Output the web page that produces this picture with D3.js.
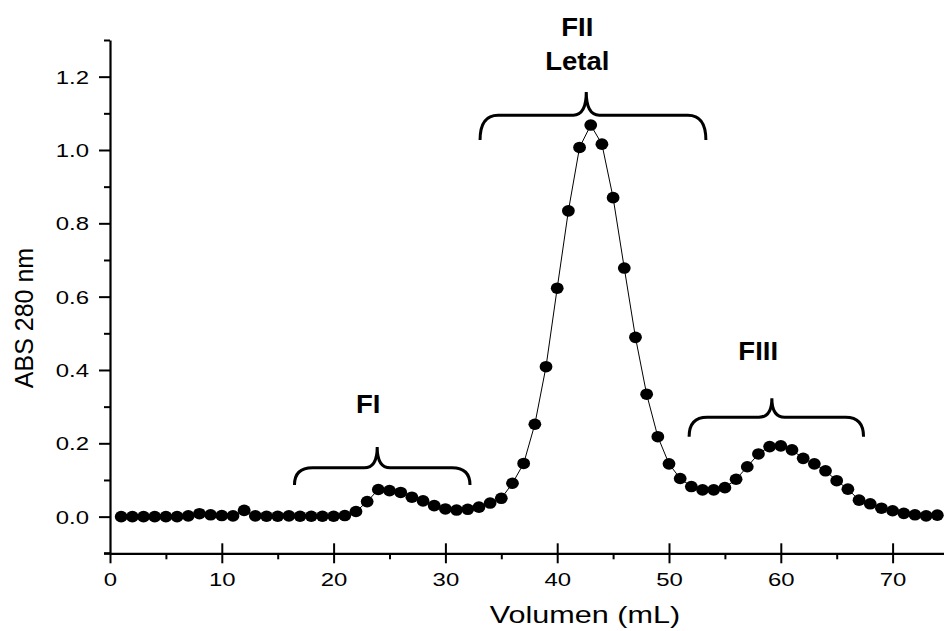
<!DOCTYPE html>
<html>
<head>
<meta charset="utf-8">
<script src="https://cdn.jsdelivr.net/npm/d3@7"></script>
<style>
  body { margin: 0; background: #fff; }
  svg { display: block; }
  text { font-family: "Liberation Sans", Arial, sans-serif; fill: #000; }
</style>
</head>
<body>
<svg id="chart" width="944" height="631"></svg>
<script>
// Elution volume (mL) and absorbance at 280 nm
var volumes = [1, 2, 3, 4, 5, 6, 7, 8, 9, 10, 11, 12, 13, 14, 15, 16, 17, 18, 19, 20,
  21, 22, 23, 24, 25, 26, 27, 28, 29, 30, 31, 32, 33, 34, 35, 36, 37, 38, 39, 40,
  41, 42, 43, 44, 45, 46, 47, 48, 49, 50, 51, 52, 53, 54, 55, 56, 57, 58, 59, 60,
  61, 62, 63, 64, 65, 66, 67, 68, 69, 70, 71, 72, 73, 74];
var absorbance = [0, 0, 0, 0, 0, 0, 0.002, 0.008, 0.005, 0.003, 0.002, 0.017, 0.002, 0.001, 0.001, 0.002, 0.001, 0.001, 0.001, 0.001,
  0.003, 0.014, 0.041, 0.074, 0.071, 0.066, 0.053, 0.043, 0.030, 0.021, 0.018, 0.020, 0.026, 0.037, 0.050, 0.091, 0.145, 0.252, 0.409, 0.623,
  0.834, 1.007, 1.068, 1.016, 0.870, 0.678, 0.489, 0.334, 0.218, 0.144, 0.104, 0.082, 0.073, 0.073, 0.079, 0.102, 0.136, 0.171, 0.191, 0.193,
  0.182, 0.159, 0.144, 0.125, 0.098, 0.075, 0.045, 0.035, 0.023, 0.016, 0.009, 0.005, 0.002, 0.004];

var xMajor = [0, 10, 20, 30, 40, 50, 60, 70];
var xMinor = [5, 15, 25, 35, 45, 55, 65, 75];
var yMajor = [0, 0.2, 0.4, 0.6, 0.8, 1.0, 1.2];
var yMinor = [-0.1, 0.1, 0.3, 0.5, 0.7, 0.9, 1.1, 1.3];

// Fraction braces: label lines, start, end, tip (mL); end, bar, tip heights (ABS)
var fractions = [
  { lines: ["FI"], x0: 16.5, x1: 32.2, xt: 23.9, yEnd: 0.086, yBar: 0.133, yTip: 0.19, labelX: 23.1, labelY: 0.282 },
  { lines: ["FII", "Letal"], x0: 33.1, x1: 53.3, xt: 42.6, yEnd: 1.027, yBar: 1.095, yTip: 1.158, labelX: 41.8, labelY: 1.311 },
  { lines: ["FIII"], x0: 51.8, x1: 67.4, xt: 59.2, yEnd: 0.218, yBar: 0.271, yTip: 0.323, labelX: 57.98, labelY: 0.428 }
];

var svg = d3.select("#chart");
var sx = 1.33; // horizontal stretch of the axis texts

var x = d3.scaleLinear().domain([0, 75]).range([110, 948.5]);
var y = d3.scaleLinear().domain([-0.1, 1.3]).range([553.3, 40]);

// Y axis
var yAxis = svg.append("g").attr("transform", "translate(" + x(0) + ",0)");
yAxis.call(d3.axisLeft(y).tickValues(yMajor).tickSize(11).tickSizeOuter(0)
  .tickFormat(d3.format(".1f")));
yAxis.select(".domain").attr("stroke-width", 2.2);
yAxis.selectAll(".tick line").attr("stroke-width", 2);
yAxis.selectAll(".tick text")
  .attr("font-size", 18)
  .attr("font-family", "Liberation Sans, Arial, sans-serif")
  .attr("x", -21 / sx)
  .attr("dy", "0.36em")
  .attr("transform", "scale(" + sx + ",1)");
svg.append("g").attr("transform", "translate(" + x(0) + ",0)")
  .call(d3.axisLeft(y).tickValues(yMinor).tickSize(6).tickFormat(""))
  .call(function(g) { g.select(".domain").remove(); })
  .selectAll(".tick line").attr("stroke-width", 2);

// X axis
var xAxis = svg.append("g").attr("transform", "translate(0," + y(-0.1) + ")");
xAxis.call(d3.axisBottom(x).tickValues(xMajor).tickSize(10).tickSizeOuter(0));
xAxis.select(".domain").attr("stroke-width", 2.2);
xAxis.selectAll(".tick line").attr("stroke-width", 2)
  .attr("y1", function(d) { return d === 0 ? 0 : -10; });
xAxis.selectAll(".tick text")
  .attr("font-size", 18)
  .attr("font-family", "Liberation Sans, Arial, sans-serif")
  .attr("y", 20)
  .attr("dy", "0.71em")
  .attr("transform", "scale(" + sx + ",1)");
svg.append("g").attr("transform", "translate(0," + y(-0.1) + ")")
  .call(d3.axisBottom(x).tickValues(xMinor).tickSize(6).tickFormat(""))
  .call(function(g) { g.select(".domain").remove(); })
  .selectAll(".tick line").attr("stroke-width", 2);
// left stub of the x axis line
svg.append("line")
  .attr("x1", x(0) - 6).attr("x2", x(0))
  .attr("y1", y(-0.1)).attr("y2", y(-0.1))
  .attr("stroke", "#000").attr("stroke-width", 2.2);

// Axis titles
svg.append("text")
  .attr("transform", "translate(585,623) scale(" + sx + ",1)")
  .attr("text-anchor", "middle")
  .attr("font-size", 23)
  .text("Volumen (mL)");
svg.append("text")
  .attr("transform", "translate(33,318) rotate(-90)")
  .attr("text-anchor", "middle")
  .attr("font-size", 25)
  .text("ABS 280 nm");

// Connecting line and points
var pts = volumes.map(function(v, i) { return [v, absorbance[i]]; });
svg.append("path")
  .datum(pts)
  .attr("fill", "none")
  .attr("stroke", "#000")
  .attr("stroke-width", 1)
  .attr("d", d3.line().x(function(d) { return x(d[0]); }).y(function(d) { return y(d[1]); }));

svg.append("g").selectAll("ellipse")
  .data(pts)
  .enter().append("ellipse")
  .attr("cx", function(d) { return x(d[0]); })
  .attr("cy", function(d) { return y(d[1]); })
  .attr("rx", 6.4)
  .attr("ry", 5.8)
  .attr("fill", "#000");

// Braces over the fractions
function bracePath(f) {
  var x0 = x(f.x0), x1 = x(f.x1), xt = x(f.xt);
  var ye = y(f.yEnd), yb = y(f.yBar), yt = y(f.yTip);
  var r = 18, r2 = 13;
  return "M" + x0 + "," + ye +
    " Q" + x0 + "," + yb + " " + (x0 + r) + "," + yb +
    " L" + (xt - r2) + "," + yb +
    " Q" + xt + "," + yb + " " + xt + "," + yt +
    " Q" + xt + "," + yb + " " + (xt + r2) + "," + yb +
    " L" + (x1 - r) + "," + yb +
    " Q" + x1 + "," + yb + " " + x1 + "," + ye;
}

var br = svg.append("g").selectAll("g")
  .data(fractions)
  .enter().append("g");

br.append("path")
  .attr("d", bracePath)
  .attr("fill", "none")
  .attr("stroke", "#000")
  .attr("stroke-width", 3);

br.each(function(f) {
  var g = d3.select(this);
  f.lines.forEach(function(s, i) {
    g.append("text")
      .attr("transform", "translate(" + x(f.labelX) + "," + (y(f.labelY) + i * 34) + ") scale(1.1,1)")
      .attr("text-anchor", "middle")
      .attr("font-size", 25)
      .attr("font-weight", "bold")
      .text(s);
  });
});
</script>
</body>
</html>
